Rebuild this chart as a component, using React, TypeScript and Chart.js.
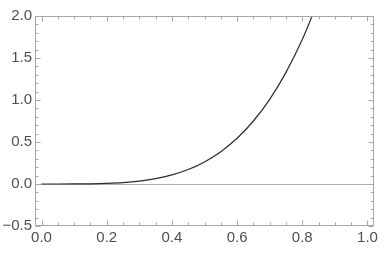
import React, { useEffect, useRef } from "react";
import { Chart, registerables } from "chart.js";

Chart.register(...registerables);

// Curve samples
const CURVE_X = [0, 0.05, 0.1, 0.15, 0.2, 0.25, 0.3, 0.35, 0.4, 0.45, 0.5, 0.55, 0.6, 0.65, 0.7, 0.75, 0.8, 0.85];
const CURVE_Y = [0, 0, 0.0004, 0.002, 0.007, 0.016, 0.034, 0.063, 0.108, 0.172, 0.263, 0.385, 0.544, 0.75, 1.008, 1.329, 1.72, 2.19];

const X_TICKS = [0, 0.2, 0.4, 0.6, 0.8, 1.0];
const X_TICK_LABELS = ["0.0", "0.2", "0.4", "0.6", "0.8", "1.0"];
const Y_TICKS = [-0.5, 0, 0.5, 1.0, 1.5, 2.0];
const Y_TICK_LABELS = ["\u22120.5", "0.0", "0.5", "1.0", "1.5", "2.0"];

const X_MIN = -0.02;
const X_MAX = 1.02;
const Y_MIN = -0.5;
const Y_MAX = 2.0;
const X_MINOR_STEP = 0.05;
const Y_MINOR_STEP = 0.1;

const FRAME = "#a6a6a6";
const LABEL = "#4f4f4f";
const FONT = { family: "'Liberation Sans', Arial, sans-serif", size: 15 };

const framePlugin = {
  id: "frame",
  beforeDatasetsDraw(chart: any) {
    const { ctx, chartArea: a, scales } = chart;
    const y0 = Math.round(scales.y.getPixelForValue(0)) + 0.5;
    ctx.save();
    ctx.strokeStyle = "#b4b4b4";
    ctx.lineWidth = 1;
    ctx.beginPath();
    ctx.moveTo(a.left, y0);
    ctx.lineTo(a.right, y0);
    ctx.stroke();
    ctx.restore();
  },
  afterDatasetsDraw(chart: any) {
    const { ctx, chartArea: a, scales } = chart;
    const xs = scales.x;
    const ys = scales.y;
    const L = Math.round(a.left) + 0.5;
    const R = Math.round(a.right) - 0.5;
    const T = Math.round(a.top) + 0.5;
    const B = Math.round(a.bottom) - 0.5;
    ctx.save();
    ctx.strokeStyle = FRAME;
    ctx.lineWidth = 1;
    ctx.beginPath();
    ctx.rect(L, T, R - L, B - T);
    ctx.stroke();
    ctx.beginPath();
    const xMinorN = Math.round((X_TICKS[X_TICKS.length - 1] - X_TICKS[0]) / X_MINOR_STEP);
    for (let i = 0; i <= xMinorN; i++) {
      const v = X_TICKS[0] + i * X_MINOR_STEP;
      const major = X_TICKS.some((t) => Math.abs(t - v) < 1e-9);
      const len = major ? 5 : 3;
      const px = Math.round(xs.getPixelForValue(v)) + 0.5;
      ctx.moveTo(px, B);
      ctx.lineTo(px, B - len);
      ctx.moveTo(px, T);
      ctx.lineTo(px, T + len);
    }
    const yMinorN = Math.round((Y_TICKS[Y_TICKS.length - 1] - Y_TICKS[0]) / Y_MINOR_STEP);
    for (let i = 0; i <= yMinorN; i++) {
      const v = Y_TICKS[0] + i * Y_MINOR_STEP;
      const major = Y_TICKS.some((t) => Math.abs(t - v) < 1e-9);
      const len = major ? 5 : 3;
      const py = Math.round(ys.getPixelForValue(v)) + 0.5;
      ctx.moveTo(L, py);
      ctx.lineTo(L + len, py);
      ctx.moveTo(R, py);
      ctx.lineTo(R - len, py);
    }
    ctx.stroke();
    ctx.restore();
  },
};

export default function App() {
  const ref = useRef<HTMLCanvasElement | null>(null);
  useEffect(() => {
    if (!ref.current) return;
    const chart = new Chart(ref.current, {
      type: "line",
      data: {
        datasets: [
          {
            data: CURVE_X.map((x, i) => ({ x, y: CURVE_Y[i] })),
            borderColor: "#2b2b2b",
            borderWidth: 1.2,
            pointRadius: 0,
            cubicInterpolationMode: "monotone",
            fill: false,
          },
        ],
      },
      options: {
        animation: false,
        responsive: false,
        devicePixelRatio: 1,
        layout: { padding: { top: 16, right: 17, left: 0, bottom: 0 } },
        plugins: { legend: { display: false }, tooltip: { enabled: false } },
        scales: {
          x: {
            type: "linear",
            min: X_MIN,
            max: X_MAX,
            grid: { display: false, drawTicks: false, tickLength: 0 },
            border: { display: false },
            afterBuildTicks: (s: any) => {
              s.ticks = X_TICKS.map((v) => ({ value: v }));
            },
            afterFit: (s: any) => {
              s.height = 31;
            },
            ticks: {
              padding: 3,
              maxRotation: 0,
              autoSkip: false,
              color: LABEL,
              font: FONT,
              callback: (v: any) => {
                const i = X_TICKS.findIndex((t) => Math.abs(t - v) < 1e-9);
                return i >= 0 ? X_TICK_LABELS[i] : "";
              },
            },
          },
          y: {
            type: "linear",
            min: Y_MIN,
            max: Y_MAX,
            grid: { display: false, drawTicks: false, tickLength: 0 },
            border: { display: false },
            afterBuildTicks: (s: any) => {
              s.ticks = Y_TICKS.map((v) => ({ value: v }));
            },
            afterFit: (s: any) => {
              s.width = 35;
            },
            ticks: {
              padding: 3,
              autoSkip: false,
              color: LABEL,
              font: FONT,
              callback: (v: any) => {
                const i = Y_TICKS.findIndex((t) => Math.abs(t - v) < 1e-9);
                return i >= 0 ? Y_TICK_LABELS[i] : "";
              },
            },
          },
        },
      },
      plugins: [framePlugin],
    } as any);
    return () => chart.destroy();
  }, []);
  return (
    <div style={{ position: "absolute", left: 0, top: 0, width: 391, height: 257, background: "#fff" }}>
      <canvas ref={ref} width={391} height={257} />
    </div>
  );
}
